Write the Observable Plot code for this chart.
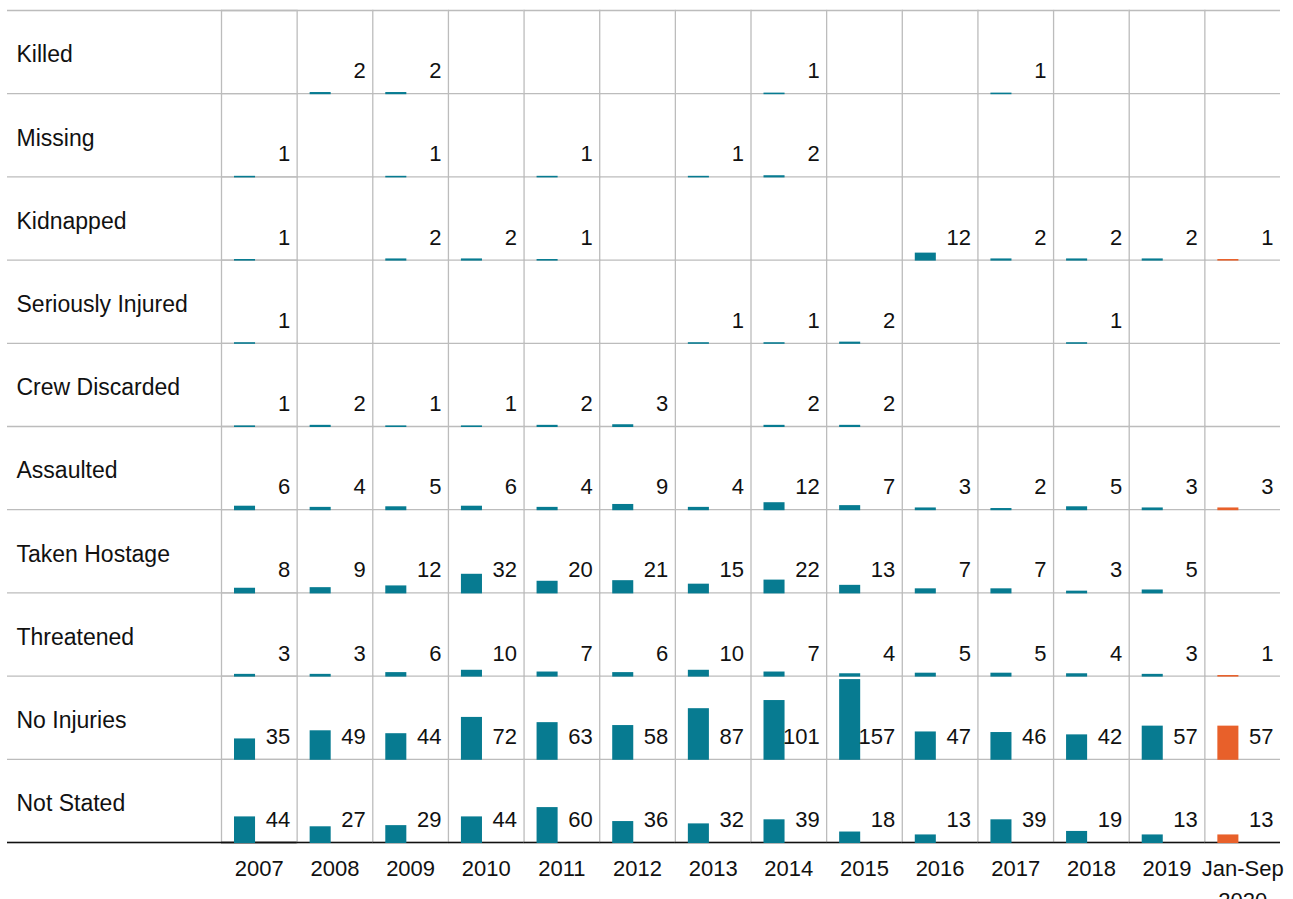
<!DOCTYPE html>
<html>
<head>
<meta charset="utf-8">
<script src="https://cdn.jsdelivr.net/npm/d3@7"></script>
<script src="https://cdn.jsdelivr.net/npm/@observablehq/plot@0.6"></script>
<style>
  html, body { margin: 0; padding: 0; background: #fff; }
  #chart svg { display: block; }
</style>
</head>
<body>
<div id="chart"></div>
<script>
// ---- Data ----
const years = ["2007", "2008", "2009", "2010", "2011", "2012", "2013", "2014", "2015", "2016", "2017", "2018", "2019", "Jan-Sep\n2020"];
const categories = ["Killed", "Missing", "Kidnapped", "Seriously Injured", "Crew Discarded", "Assaulted", "Taken Hostage", "Threatened", "No Injuries", "Not Stated"];

const killed           = [null, 2, 2, null, null, null, null, 1, null, null, 1, null, null, null];
const missing          = [1, null, 1, null, 1, null, 1, 2, null, null, null, null, null, null];
const kidnapped        = [1, null, 2, 2, 1, null, null, null, null, 12, 2, 2, 2, 1];
const seriouslyInjured = [1, null, null, null, null, null, 1, 1, 2, null, null, 1, null, null];
const crewDiscarded    = [1, 2, 1, 1, 2, 3, null, 2, 2, null, null, null, null, null];
const assaulted        = [6, 4, 5, 6, 4, 9, 4, 12, 7, 3, 2, 5, 3, 3];
const takenHostage     = [8, 9, 12, 32, 20, 21, 15, 22, 13, 7, 7, 3, 5, null];
const threatened       = [3, 3, 6, 10, 7, 6, 10, 7, 4, 5, 5, 4, 3, 1];
const noInjuries       = [35, 49, 44, 72, 63, 58, 87, 101, 157, 47, 46, 42, 57, 57];
const notStated        = [44, 27, 29, 44, 60, 36, 32, 39, 18, 13, 39, 19, 13, 13];

const series = [killed, missing, kidnapped, seriouslyInjured, crewDiscarded, assaulted, takenHostage, threatened, noInjuries, notStated];
const partialYear = years[years.length - 1];

// ---- Tables built from the arrays ----
const rows = [];
categories.forEach((category, i) => {
  series[i].forEach((value, j) => {
    if (value != null) rows.push({category, year: years[j], value, period: years[j] === partialYear ? "partial" : "full"});
  });
});
const cells = d3.cross(categories, years).map(([category, year]) => ({category, year}));

// ---- Styles ----
const teal = "#077b91";
const orange = "#e8602a";
const gridGray = "#bcbcbc";
const ink = "#111111";
const yMax = 137;
const gridWidth = 1.3;

const chart = Plot.plot({
  width: 1293,
  height: 899,
  marginLeft: 221,
  marginRight: 13,
  marginTop: 10,
  marginBottom: 57,
  style: {fontFamily: "'Liberation Sans', Arial, Helvetica, sans-serif", fontSize: "22px", color: ink, background: "#fff", overflow: "visible"},
  fx: {domain: years, padding: 0, round: false},
  fy: {domain: categories, padding: 0, round: false},
  y: {domain: [0, yMax], insetTop: 3.5, clamp: true, axis: null},
  color: {domain: ["full", "partial"], range: [teal, orange]},
  marks: [
    // vertical grid lines at the left of every column
    Plot.frame({anchor: "left", stroke: gridGray, strokeWidth: gridWidth}),
    // row bottom lines (one per cell, so every cell is drawn)
    Plot.ruleY(cells, {fx: "year", fy: "category", y: 0, stroke: gridGray, strokeWidth: gridWidth}),
    Plot.ruleY(categories, {fy: d => d, fx: () => years[0], y: 0, insetLeft: -214, stroke: gridGray, strokeWidth: gridWidth}),
    // top line
    Plot.ruleY([categories[0]], {fy: d => d, y: yMax, dy: -3.5, stroke: gridGray, strokeWidth: gridWidth}),
    Plot.ruleY([categories[0]], {fy: d => d, fx: () => years[0], y: yMax, dy: -3.5, insetLeft: -214, stroke: gridGray, strokeWidth: gridWidth}),
    // black baseline
    Plot.ruleY([categories[categories.length - 1]], {fy: d => d, y: 0, stroke: ink, strokeWidth: 1.6}),
    Plot.ruleY([categories[categories.length - 1]], {fy: d => d, fx: () => years[0], y: 0, insetLeft: -214, stroke: ink, strokeWidth: 1.6}),
    // bars
    Plot.barY(rows, {fx: "year", fy: "category", y: "value", fill: "period", insetLeft: 13, insetRight: 41.6, insetBottom: -1}),
    // value labels
    Plot.text(rows, {fx: "year", fy: "category", text: d => String(d.value), frameAnchor: "bottom-right", textAnchor: "end", lineAnchor: "middle", dx: -7, dy: -22.5, fontSize: 22, fill: ink}),
    Plot.axisFx({anchor: "bottom", tickSize: 0, tickPadding: 11, label: null, lineHeight: 1.44, fontSize: 22}),
    Plot.axisFy({anchor: "left", tickSize: 0, tickPadding: 205, textAnchor: "start", dy: 3, label: null, fontSize: 23})
  ]
});

document.getElementById("chart").appendChild(chart);
</script>
</body>
</html>
